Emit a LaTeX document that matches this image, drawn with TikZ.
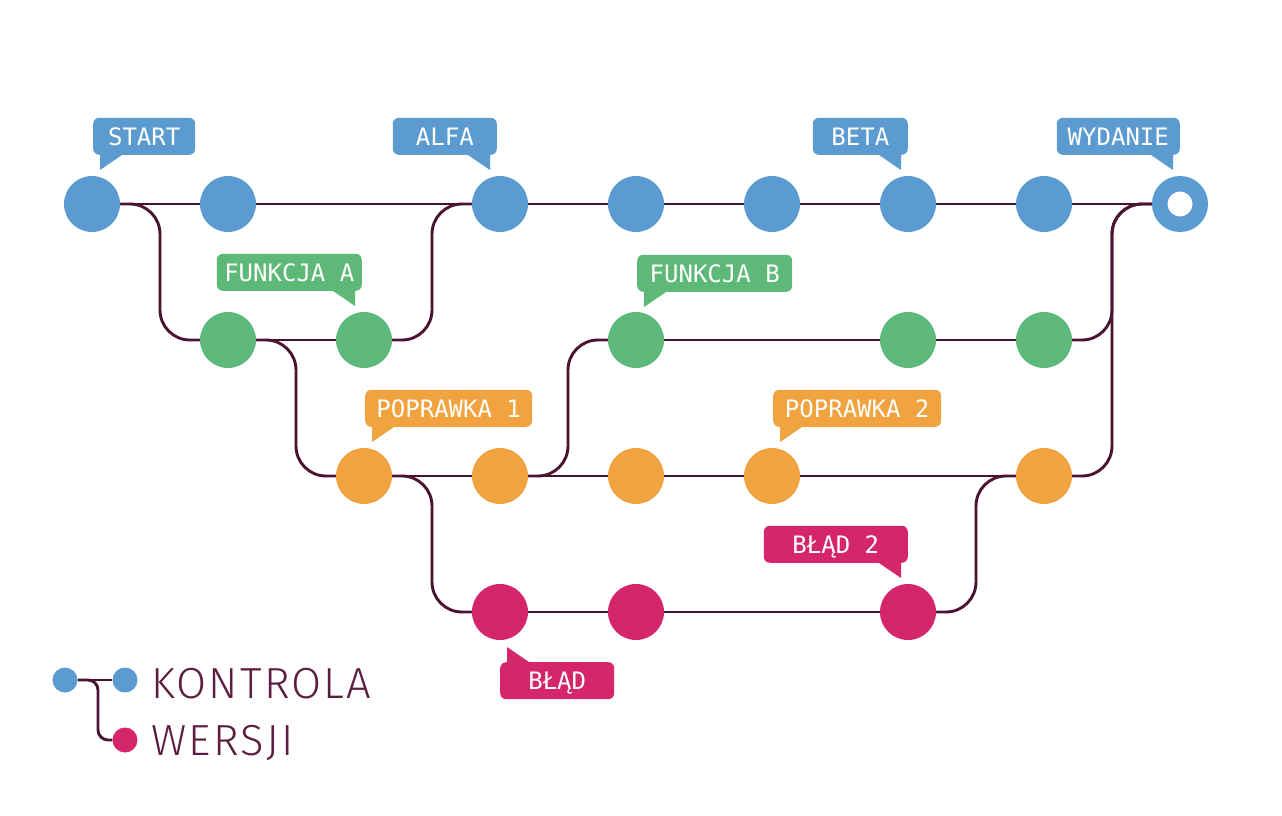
\documentclass[tikz,border=0pt]{standalone}
\usepackage{fontspec}
\usepackage{xcolor}
\usepackage{tikz}
\usetikzlibrary{positioning,calc,backgrounds}
\newfontfamily\tagfont{DejaVu Sans Mono}
\newfontfamily\legfont{Fira Sans}[UprightFont={* Light},LetterSpace=5]
\definecolor{cblue}{HTML}{5B9BCF}
\definecolor{cgreen}{HTML}{5EB978}
\definecolor{corange}{HTML}{F0A33E}
\definecolor{cpink}{HTML}{D6266B}
\definecolor{cline}{HTML}{4B1432}
\definecolor{clegend}{HTML}{5C1E3E}
\newcommand{\pin}[4]{\fill[#1] #2 coordinate (p) -- ++(#3,0) -- ([yshift=#4]p) -- cycle;}

\begin{document}
\begin{tikzpicture}[x=1pt,y=-1pt,
    dot/.style={circle, fill=#1, minimum size=56pt, inner sep=0pt},
    tag/.style={fill=#1, rounded corners=6pt, text=white, font={\tagfont\fontsize{24}{24}\selectfont},
        text height=17.5pt, text depth=0pt, minimum height=37pt, inner xsep=0pt},
    link/.style={draw=cline, line width=2.9pt, rounded corners=30pt}]
    \useasboundingbox (0,0) rectangle (1282,816);

    % commits
    \foreach \c in {0,1,3,4,5,6,7} \node [dot=cblue] (b\c) at (92+136*\c,204) {};
    \node [circle, draw=cblue, fill=white, line width=15.5pt, minimum size=40.5pt, inner sep=0pt] (b8) at (1180,204) {};
    \foreach \c in {1,2,4,6,7} \node [dot=cgreen] (g\c) at (92+136*\c,340) {};
    \foreach \c in {2,3,4,5,7} \node [dot=corange] (o\c) at (92+136*\c,476) {};
    \foreach \c in {3,4,6} \node [dot=cpink] (p\c) at (92+136*\c,612) {};

    % branches
    \begin{scope}[on background layer]
        \draw [link] (b0) -- (b8);
        \draw [link] (b0) -| ([xshift=-68pt]g1.center) -- (g1);
        \draw [link] (g1) -- (g2);
        \draw [link] (g2) -| ([xshift=-68pt]b3.center) -- (b3);
        \draw [link] (g1) -| ([xshift=-68pt]o2.center) -- (o2);
        \draw [link] (o2) -- (o7);
        \draw [link] (o3) -| ([xshift=-68pt]g4.center) -- (g4);
        \draw [link] (g4) -- (g7);
        \draw [link] (g7) -| ([xshift=-68pt]b8.center) -- (b8);
        \draw [link] (o7) -| ([xshift=-68pt]b8.center) -- (b8);
        \draw [link] (o2) -| ([xshift=-68pt]p3.center) -- (p3);
        \draw [link] (p3) -- (p6);
        \draw [link] (p6) -| ([xshift=-68pt]o7.center) -- (o7);
    \end{scope}

    % tags
    \node [tag=cblue, minimum width=102pt, anchor=south west] (tstart) at ([xshift=1pt,yshift=49pt]b0.center) {START};
    \pin{cblue}{([xshift=7pt]tstart.south west)}{22}{-15pt}
    \node [tag=cblue, minimum width=104pt, anchor=south east] (talfa) at ([xshift=-3pt,yshift=49pt]b3.center) {ALFA};
    \pin{cblue}{([xshift=-7pt]talfa.south east)}{-22}{-15pt}
    \node [tag=cblue, minimum width=95pt, anchor=south east] (tbeta) at ([yshift=49pt]b6.center) {BETA};
    \pin{cblue}{([xshift=-7pt]tbeta.south east)}{-22}{-15pt}
    \node [tag=cblue, minimum width=123pt, anchor=south east] (twyd) at ([yshift=49pt]b8.center) {WYDANIE};
    \pin{cblue}{([xshift=-7pt]twyd.south east)}{-22}{-15pt}
    \node [tag=cgreen, minimum width=145pt, anchor=south east] (tfa) at ([xshift=-2pt,yshift=49pt]g2.center) {FUNKCJA A};
    \pin{cgreen}{([xshift=-7pt]tfa.south east)}{-22}{-15pt}
    \node [tag=cgreen, minimum width=155pt, anchor=south west] (tfb) at ([xshift=1pt,yshift=48pt]g4.center) {FUNKCJA B};
    \pin{cgreen}{([xshift=7pt]tfb.south west)}{22}{-15pt}
    \node [tag=corange, minimum width=167pt, anchor=south west] (tpop1) at ([xshift=1pt,yshift=49pt]o2.center) {POPRAWKA 1};
    \pin{corange}{([xshift=7pt]tpop1.south west)}{22}{-15pt}
    \node [tag=corange, minimum width=168pt, anchor=south west] (tpop2) at ([xshift=1pt,yshift=49pt]o5.center) {POPRAWKA 2};
    \pin{corange}{([xshift=7pt]tpop2.south west)}{22}{-15pt}
    \node [tag=cpink, minimum width=144pt, anchor=south east] (tbl2) at ([yshift=49pt]p6.center) {BŁĄD 2};
    \pin{cpink}{([xshift=-7pt]tbl2.south east)}{-22}{-15pt}
    \node [tag=cpink, minimum width=114pt, anchor=north west] (tbl) at ([yshift=-50pt]p3.center) {BŁĄD};
    \pin{cpink}{([xshift=7pt]tbl.north west)}{22}{15pt}

    % legend
    \node [dot=cblue, minimum size=25pt] (l1) at (65,680) {};
    \node [dot=cblue, minimum size=25pt] (l2) at (125,680) {};
    \node [dot=cpink, minimum size=25pt] (l3) at (125,740) {};
    \begin{scope}[on background layer]
        \draw [link, rounded corners=10pt] (l1) -- (l2);
        \draw [link, rounded corners=10pt] (l1) -| ([xshift=-27pt]l3.center) -- (l3);
    \end{scope}
    \node [anchor=base west, inner sep=0pt, text=clegend, font={\legfont\fontsize{43.5}{44}\selectfont}] (kontrola) at (151,698) {KONTROLA};
    \node [anchor=base west, inner sep=0pt, text=clegend, font={\legfont\fontsize{43.5}{44}\selectfont}] (wersji) at (151,755) {WERSJI};
\end{tikzpicture}
\end{document}
